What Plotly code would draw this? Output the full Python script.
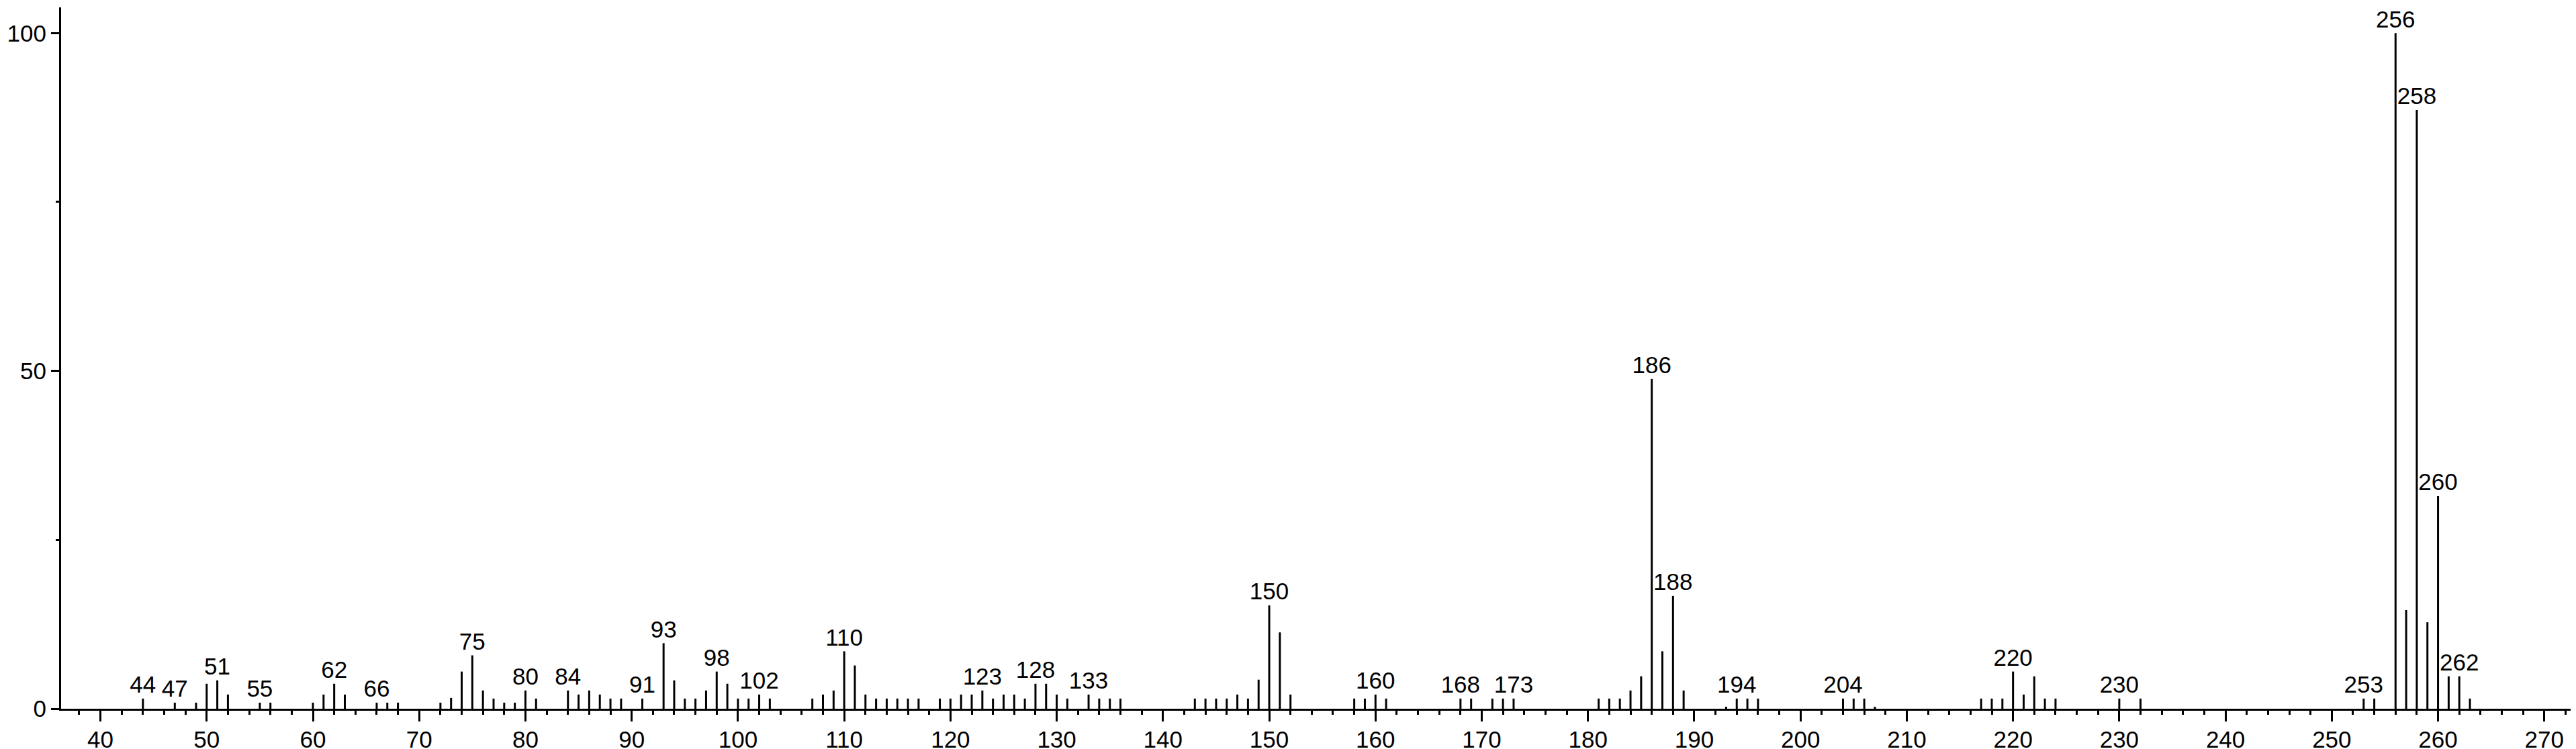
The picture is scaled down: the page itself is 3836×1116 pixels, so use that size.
import plotly.graph_objects as go

# m/z values and relative intensities (%)
mz = [44, 47, 49, 50, 51, 52, 55, 56, 60, 61, 62, 63, 66, 67, 68, 72, 73, 74, 75, 76,
      77, 78, 79, 80, 81, 84, 85, 86, 87, 88, 89, 91, 93, 94, 95, 96, 97, 98, 99, 100,
      101, 102, 103, 107, 108, 109, 110, 111, 112, 113, 114, 115, 116, 117, 119, 120,
      121, 122, 123, 124, 125, 126, 127, 128, 129, 130, 131, 133, 134, 135, 136,
      143, 144, 145, 146, 147, 148, 149, 150, 151, 152,
      158, 159, 160, 161, 168, 169, 171, 172, 173,
      181, 182, 183, 184, 185, 186, 187, 188, 189, 193, 194, 195, 196,
      204, 205, 206, 207, 217, 218, 219, 220, 221, 222, 223, 224, 230, 232,
      253, 254, 256, 257, 258, 259, 260, 261, 262, 263]
intensity = [1.5, 0.9, 0.9, 3.7, 4.2, 2.1, 0.9, 0.9, 0.9, 2.1, 3.7, 2.1, 0.9, 0.9, 0.9, 0.9, 1.6, 5.5, 7.9, 2.7,
             1.5, 0.9, 0.9, 2.7, 1.5, 2.7, 2.1, 2.7, 2.1, 1.5, 1.5, 1.5, 9.7, 4.2, 1.5, 1.5, 2.7, 5.5, 3.7, 1.5,
             1.5, 2.1, 1.5, 1.5, 2.1, 2.7, 8.5, 6.4, 2.1, 1.5, 1.5, 1.5, 1.5, 1.5, 1.5, 1.5,
             2.1, 2.1, 2.7, 1.5, 2.1, 2.1, 1.5, 3.7, 3.7, 2.1, 1.5, 2.1, 1.5, 1.5, 1.5,
             1.5, 1.5, 1.5, 1.5, 2.1, 1.5, 4.3, 15.3, 11.3, 2.1,
             1.5, 1.5, 2.1, 1.5, 1.5, 1.5, 1.5, 1.5, 1.5,
             1.5, 1.5, 1.5, 2.7, 4.8, 48.8, 8.5, 16.7, 2.7, 0.3, 1.5, 1.5, 1.5,
             1.5, 1.5, 1.5, 0.3, 1.5, 1.5, 1.5, 5.5, 2.1, 4.8, 1.5, 1.5, 1.5, 1.5,
             1.5, 1.5, 100.0, 14.6, 88.6, 12.8, 31.5, 4.8, 4.8, 1.5]

# peaks that carry an m/z label
labeled = [44, 47, 51, 55, 62, 66, 75, 80, 84, 91, 93, 98, 102, 110, 123, 128, 133,
           150, 160, 168, 173, 186, 188, 194, 204, 220, 230, 253, 256, 258, 260, 262]

x_ticks = list(range(40, 271, 10))
y_ticks = [0, 50, 100]

FONT = "Liberation Sans, Arial, sans-serif"
FS = 35

xs, ys = [], []
for m, v in zip(mz, intensity):
    xs += [m, m, None]
    ys += [0, v, None]

fig = go.Figure()
fig.add_trace(go.Scatter(x=xs, y=ys, mode="lines",
                         line=dict(color="black", width=3),
                         hoverinfo="skip", showlegend=False))

lookup = dict(zip(mz, intensity))
fig.add_trace(go.Scatter(
    x=labeled, y=[lookup[m] for m in labeled],
    text=[str(m) for m in labeled], mode="text",
    textposition="top center", cliponaxis=False,
    marker=dict(size=0),
    textfont=dict(family=FONT, size=FS, color="black"),
    hoverinfo="skip", showlegend=False))

fig.update_layout(
    width=3836, height=1116,
    margin=dict(l=69, r=3, t=3, b=57),
    paper_bgcolor="white", plot_bgcolor="white",
    showlegend=False,
    font=dict(family=FONT, size=FS, color="black"),
)
fig.update_xaxes(
    range=[36.3, 273.3], showgrid=False, zeroline=False,
    showline=True, linecolor="black", linewidth=3,
    tickmode="array", tickvals=x_ticks, ticktext=[str(t) for t in x_ticks],
    ticks="outside", ticklen=16, tickwidth=3, tickcolor="black",
    ticklabelstandoff=-3,
    minor=dict(dtick=2, tick0=0, ticks="outside", ticklen=6, tickwidth=3, tickcolor="black"),
    tickfont=dict(family=FONT, size=FS, color="black"),
)
fig.update_yaxes(
    range=[0, 103.8], showgrid=False, zeroline=False,
    showline=True, linecolor="black", linewidth=3,
    tickmode="array", tickvals=y_ticks, ticktext=[str(t) for t in y_ticks],
    ticks="outside", ticklen=12, tickwidth=3, tickcolor="black",
    minor=dict(tickvals=[25, 75], ticks="outside", ticklen=5, tickwidth=3, tickcolor="black"),
    tickfont=dict(family=FONT, size=FS, color="black"),
)

fig.write_html("out.html")
